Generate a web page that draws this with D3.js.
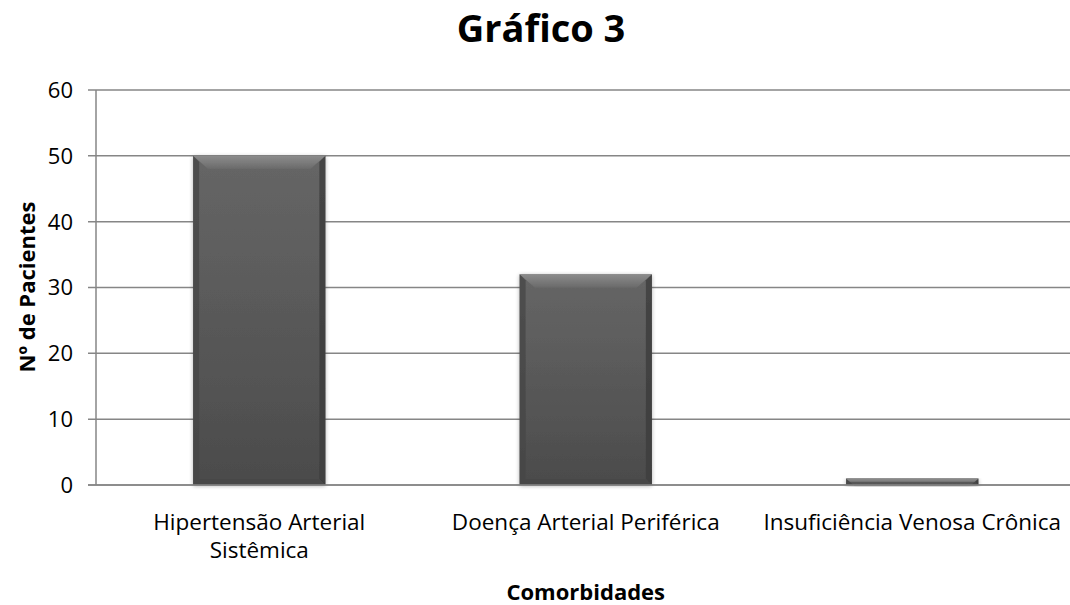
<!DOCTYPE html>
<html>
<head>
<meta charset="utf-8">
<script src="https://cdn.jsdelivr.net/npm/d3@7"></script>
<style>
  body { margin: 0; background: #fff; overflow: hidden; }
  svg { display: block; }
  text { font-family: "Open Sans", sans-serif; fill: #000; }
</style>
</head>
<body>
<svg id="chart" width="1070" height="605"></svg>
<script>
// dados do gráfico
const categorias = [["Hipertensão Arterial", "Sistêmica"], ["Doença Arterial Periférica"], ["Insuficiência Venosa Crônica"]];
const pacientes = [50, 32, 1];
const ticksY = [0, 10, 20, 30, 40, 50, 60];

const svg = d3.select("#chart");
const esq = 96, dir = 1075.5, topo = 90, base = 485;

const x = d3.scaleBand().domain(d3.range(categorias.length)).range([esq, dir]);
const y = d3.scaleLinear().domain([0, 60]).range([base, topo]);
const barW = x.bandwidth() * 0.405;

// gradientes das barras
const defs = svg.append("defs");
const g1 = defs.append("linearGradient").attr("id", "corpo").attr("x1", 0).attr("y1", 0).attr("x2", 0).attr("y2", 1);
g1.append("stop").attr("offset", "0%").attr("stop-color", "#666");
g1.append("stop").attr("offset", "100%").attr("stop-color", "#4b4b4b");
const g3 = defs.append("linearGradient").attr("id", "realce").attr("x1", 0).attr("y1", 0).attr("x2", 0).attr("y2", 1);
g3.append("stop").attr("offset", "0%").attr("stop-color", "#8c8c8c");
g3.append("stop").attr("offset", "100%").attr("stop-color", "#6a6a6a");
const sombra = defs.append("filter").attr("id", "sombra").attr("x", "-10%").attr("y", "-10%").attr("width", "120%").attr("height", "120%");
sombra.append("feGaussianBlur").attr("in", "SourceAlpha").attr("stdDeviation", 2);
sombra.append("feOffset").attr("dx", 0).attr("dy", 1);
sombra.append("feComponentTransfer").append("feFuncA").attr("type", "linear").attr("slope", 0.3);
const mg = sombra.append("feMerge");
mg.append("feMergeNode");
mg.append("feMergeNode").attr("in", "SourceGraphic");

// linhas de grade
svg.append("g").selectAll("line").data(ticksY).join("line")
  .attr("x1", esq - 8).attr("x2", 1070)
  .attr("y1", d => y(d)).attr("y2", d => y(d))
  .attr("stroke", "#868686").attr("stroke-width", 1.5);

// eixo y
svg.append("line").attr("x1", esq).attr("x2", esq).attr("y1", topo).attr("y2", base)
  .attr("stroke", "#868686").attr("stroke-width", 1.5);
svg.append("g").selectAll("text").data(ticksY).join("text")
  .attr("x", 73).attr("y", d => y(d)).attr("dy", "0.36em")
  .attr("text-anchor", "end").attr("font-size", 22).text(d => d);

// barras
const bars = svg.append("g").selectAll("g").data(pacientes).join("g")
  .attr("transform", (d, i) => `translate(${x(i) + (x.bandwidth() - barW) / 2},0)`)
  .attr("filter", "url(#sombra)");
bars.append("rect").attr("x", 0).attr("width", barW)
  .attr("y", d => y(d)).attr("height", d => y(0) - y(d)).attr("fill", "url(#corpo)");
// bordas laterais e topo em relevo
const bev = d => Math.min(6, (y(0) - y(d)) / 2);
bars.append("path").attr("fill", "#454545").attr("opacity", 0.7)
  .attr("d", d => { const b = bev(d), t = y(d), u = y(0); return `M0,${t}L${b},${t + b}L${b},${u - b}L0,${u}Z`; });
bars.append("path").attr("fill", "#3c3c3c").attr("opacity", 0.8)
  .attr("d", d => { const b = bev(d), t = y(d), u = y(0); return `M${barW},${t}L${barW - b},${t + b}L${barW - b},${u - b}L${barW},${u}Z`; });
bars.append("path").attr("fill", "url(#realce)")
  .attr("d", d => { const b = bev(d) * 2.5, t = y(d), bb = bev(d); return `M0,${t}L${barW},${t}L${barW - b},${t + bb * 2.2}L${b},${t + bb * 2.2}Z`; });
bars.append("path").attr("fill", "#444").attr("opacity", 0.6)
  .attr("d", d => { const b = bev(d), u = y(0); return `M0,${u}L${barW},${u}L${barW - b},${u - b}L${b},${u - b}Z`; });

// eixo x (linha de base por cima)
svg.append("line").attr("x1", esq - 8).attr("x2", 1070).attr("y1", y(0)).attr("y2", y(0))
  .attr("stroke", "#868686").attr("stroke-width", 1.5);

// rótulos das categorias
svg.append("g").selectAll("text").data(categorias).join("text")
  .attr("x", (d, i) => x(i) + x.bandwidth() / 2).attr("y", 530)
  .attr("text-anchor", "middle").attr("font-size", 22.5)
  .selectAll("tspan").data(d => d).join("tspan")
  .attr("x", function () { return this.parentNode.getAttribute("x"); })
  .attr("dy", (d, i) => i ? 28 : 0).text(d => d);

// títulos
svg.append("text").attr("x", 541).attr("y", 42).attr("text-anchor", "middle")
  .attr("font-size", 38).attr("font-weight", "bold").text("Gráfico 3");
svg.append("text").attr("x", (esq + dir) / 2).attr("y", 600).attr("text-anchor", "middle")
  .attr("font-size", 22).attr("font-weight", "bold").text("Comorbidades");
svg.append("text").attr("transform", "translate(35,287) rotate(-90)").attr("text-anchor", "middle")
  .attr("font-size", 22).attr("font-weight", "bold").text("Nº de Pacientes");
</script>
</body>
</html>
